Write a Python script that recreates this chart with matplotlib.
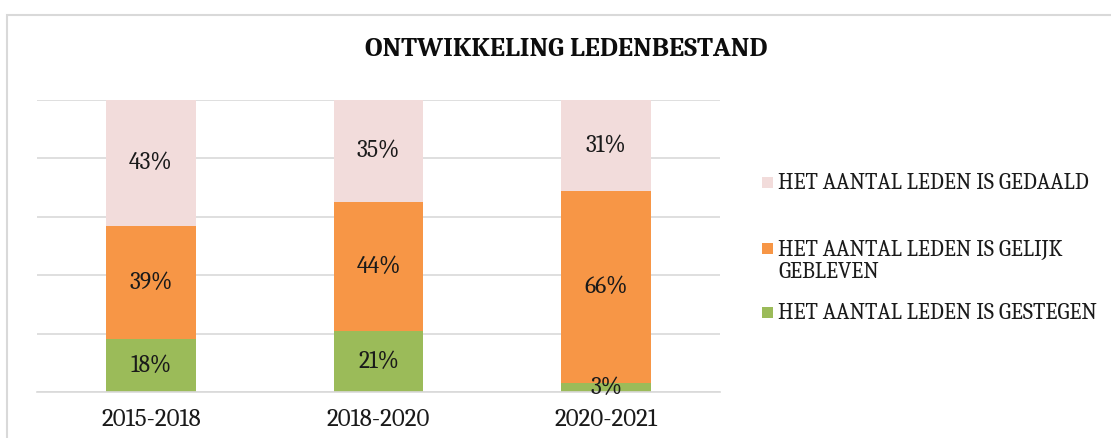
import matplotlib
matplotlib.use("Agg")
import matplotlib.pyplot as plt
from matplotlib.patches import Rectangle
import numpy as np

periods = ["2015-2018", "2018-2020", "2020-2021"]
gestegen = [18, 21, 3]
gelijk = [39, 44, 66]
gedaald = [43, 35, 31]

series_labels = [
    "HET AANTAL LEDEN IS GESTEGEN",
    "HET AANTAL LEDEN IS GELIJK\nGEBLEVEN",
    "HET AANTAL LEDEN IS GEDAALD",
]
colors = ["#9BBB59", "#F79646", "#F2DCDB"]

plt.rcParams["font.family"] = ["Caladea", "DejaVu Serif"]

W, H = 1111, 438
fig = plt.figure(figsize=(W / 100, H / 100), dpi=100)
ax = fig.add_axes([37 / W, 1 - 392 / H, (720 - 37) / W, (392 - 100) / H])

# chart frame (cut off on the right and bottom like the screenshot)
fig.patches.append(Rectangle((7 / W, -0.2), 1.2, 1 - 15 / H + 0.2, transform=fig.transFigure,
                             fill=False, edgecolor="#D9D9D9", linewidth=1.5))

x = np.arange(len(periods))
bottom = np.zeros(len(periods))
containers = []
for vals, col in zip([gestegen, gelijk, gedaald], colors):
    vals = np.array(vals, dtype=float)
    bars = ax.bar(x, vals, width=0.395, bottom=bottom, color=col, zorder=2)
    containers.append(bars)
    for xi, v, b in zip(x, vals, bottom):
        ax.text(xi, b + v / 2, f"{int(v)}%", ha="center", va="center", fontsize=17,
                color="#1a1a1a", zorder=3)
    bottom += vals

ax.set_xlim(-0.5, 2.5)
ax.set_ylim(0, 100)
ax.set_yticks(np.arange(0, 101, 20))
ax.yaxis.grid(True, color="#D9D9D9", linewidth=1.2, zorder=0)
ax.set_axisbelow(True)
ax.tick_params(axis="y", left=False, labelleft=False)
ax.tick_params(axis="x", bottom=False, labelsize=18, pad=8, labelcolor="#1a1a1a")
ax.set_xticks(x)
ax.set_xticklabels(periods)
for s in ["top", "right", "left"]:
    ax.spines[s].set_visible(False)
ax.spines["bottom"].set_color("#D9D9D9")
ax.spines["bottom"].set_linewidth(1.2)

fig.text(566 / W, 1 - 50 / H, "ONTWIKKELING LEDENBESTAND", ha="center", va="center",
         fontsize=19.5, fontweight="bold", color="#0d0d0d")

# legend, drawn like the Excel one (top entry = last series)
marker_y = [312, 248, 182]
line_px = 23
for bars, lab, my in zip(containers, series_labels, marker_y):
    col = bars.patches[0].get_facecolor()
    fig.patches.append(Rectangle((762 / W, 1 - (my + 5.5) / H), 11 / W, 11 / H,
                                 transform=fig.transFigure, facecolor=col, edgecolor="none"))
    nl = lab.count("\n")
    fig.text(778 / W, 1 - (my + 7 + nl * line_px) / H, lab, ha="left", va="baseline",
             fontsize=16, color="#1a1a1a", linespacing=1.04)

fig.savefig("out.png", dpi=100)
